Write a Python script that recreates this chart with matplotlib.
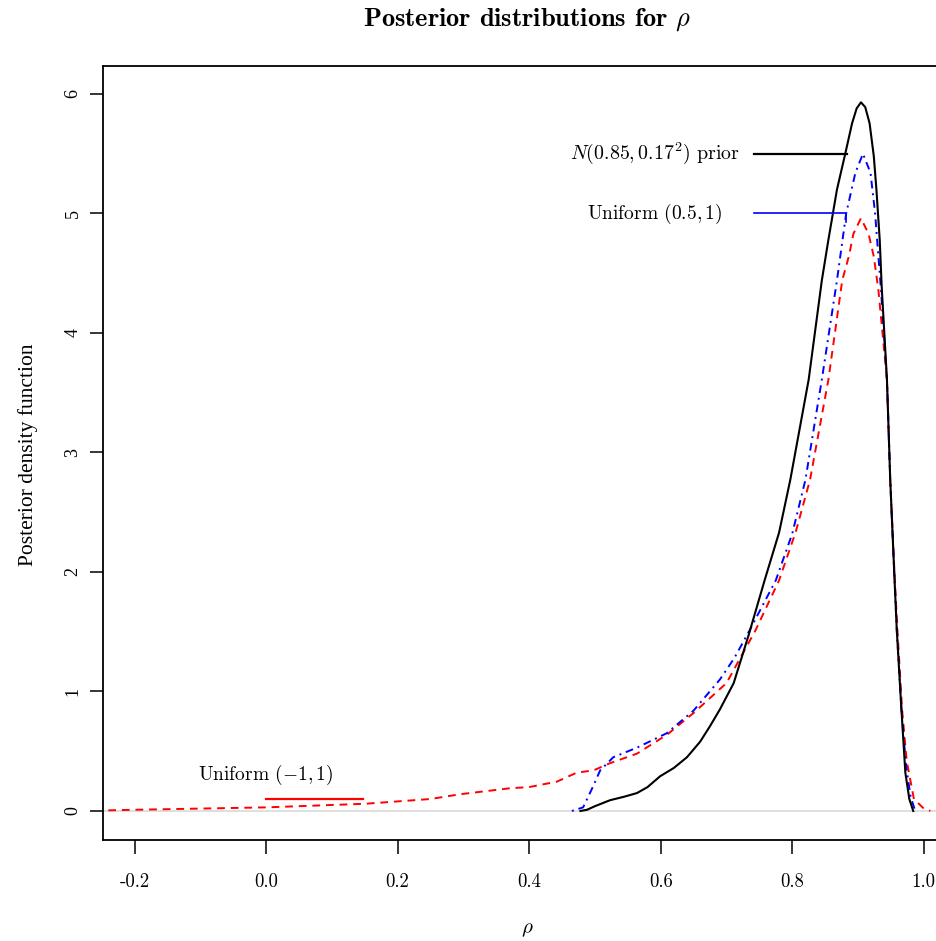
import matplotlib
matplotlib.use("Agg")
import matplotlib.pyplot as plt
import numpy as np

plt.rcParams['mathtext.fontset'] = 'cm'
plt.rcParams['font.family'] = ['cmr10', 'DejaVu Serif']
plt.rcParams['axes.unicode_minus'] = False

# posterior densities
rho_normal = [0.478, 0.488, 0.50, 0.523, 0.545, 0.564, 0.58, 0.599, 0.62, 0.64,
              0.66, 0.675, 0.69, 0.711, 0.7336, 0.758, 0.78, 0.797, 0.825,
              0.845, 0.855, 0.868, 0.8806, 0.891, 0.898, 0.9045, 0.911, 0.9176,
              0.924, 0.928, 0.933, 0.936, 0.944, 0.949, 0.9556, 0.959, 0.966,
              0.972, 0.978, 0.984]
dens_normal = [0.0, 0.01, 0.04, 0.09, 0.12, 0.15, 0.20, 0.29, 0.36, 0.45,
               0.58, 0.71, 0.85, 1.07, 1.47, 1.93, 2.33, 2.77, 3.61,
               4.44, 4.78, 5.20, 5.50, 5.755, 5.88, 5.93, 5.89, 5.755,
               5.48, 5.20, 4.78, 4.39, 3.61, 2.77, 1.93, 1.51, 0.85,
               0.32, 0.10, 0.0]

rho_unif05 = [0.465, 0.482, 0.495, 0.508, 0.528, 0.564, 0.609, 0.65, 0.69, 0.712,
              0.735, 0.775, 0.80, 0.82, 0.845, 0.868, 0.873, 0.882, 0.896,
              0.9075, 0.919, 0.926, 0.931, 0.935, 0.944, 0.949, 0.9556, 0.959,
              0.966, 0.973, 0.98, 0.987]
dens_unif05 = [0.0, 0.03, 0.18, 0.34, 0.45, 0.53, 0.65, 0.84, 1.10, 1.28,
               1.51, 1.93, 2.32, 2.77, 3.61, 4.44, 4.64, 5.0, 5.34,
               5.50, 5.34, 5.0, 4.64, 4.36, 3.61, 2.77, 1.93, 1.51,
               0.85, 0.38, 0.12, 0.0]

rho_unif11 = [-0.24, -0.2, -0.1, 0.0, 0.1, 0.15, 0.2, 0.25, 0.295, 0.371, 0.40,
              0.442, 0.472, 0.498, 0.523, 0.564, 0.61, 0.65, 0.70, 0.744, 0.78,
              0.805, 0.827, 0.855, 0.876, 0.886, 0.893, 0.9045, 0.916, 0.924,
              0.931, 0.944, 0.949, 0.956, 0.96, 0.967, 0.974, 0.985, 1.0, 1.01]
dens_unif11 = [0.005, 0.01, 0.02, 0.03, 0.05, 0.06, 0.08, 0.10, 0.14, 0.19, 0.20,
               0.245, 0.32, 0.34, 0.40, 0.48, 0.64, 0.82, 1.07, 1.51, 1.93,
               2.33, 2.77, 3.61, 4.44, 4.64, 4.83, 4.96, 4.83, 4.64,
               4.36, 3.61, 2.77, 1.93, 1.51, 0.85, 0.42, 0.10, 0.02, 0.0]

x_ticks = [-0.2, 0.0, 0.2, 0.4, 0.6, 0.8, 1.0]
x_labels = ['-0.2', '0.0', '0.2', '0.4', '0.6', '0.8', '1.0']
y_ticks = [0, 1, 2, 3, 4, 5, 6]

fig = plt.figure(figsize=(9.36, 9.41), dpi=100)
ax = fig.add_axes([103 / 936, 101 / 941, 853 / 936, 774 / 941])

ax.axhline(0, color='#d9d9d9', linewidth=1.2, zorder=1)
ax.plot(rho_unif11, dens_unif11, color='red', linestyle=(0, (4, 3)), linewidth=1.4)
ax.plot(rho_unif05, dens_unif05, color='blue', linestyle=(0, (1, 2.5, 4, 2.5)), linewidth=1.4)
ax.plot(rho_normal, dens_normal, color='black', linewidth=1.5)

# labels on the curves
ax.plot([0.742, 0.883], [5.5, 5.5], color='black', linewidth=1.6)
ax.text(0.721, 5.5, r'$N(0.85, 0.17^2)$ prior', ha='right', va='center', fontsize=14.3)
ax.plot([0.742, 0.882, 0.882], [5.0, 5.0, 4.93], color='blue', linewidth=1.2)
ax.text(0.694, 5.0, r'Uniform $(0.5, 1)$', ha='right', va='center', fontsize=14)
ax.plot([0.0, 0.148], [0.10, 0.10], color='red', linewidth=1.6)
ax.text(0.0, 0.30, r'Uniform $(-1, 1)$', ha='center', va='center', fontsize=14)

ax.set_xlim(-0.248, 1.049)
ax.set_ylim(-0.243, 6.234)
ax.set_xticks(x_ticks)
ax.set_xticklabels(x_labels)
ax.set_yticks(y_ticks)
ax.set_yticklabels([str(v) for v in y_ticks], rotation=90, va='center',
                   family='Liberation Serif')
ax.tick_params(axis='x', length=10, width=1.1, pad=14, labelsize=13.5)
ax.tick_params(axis='y', length=9.5, width=1.1, pad=6, labelsize=13)
for s in ax.spines.values():
    s.set_linewidth(1.3)

fig.text(527 / 936, 1 - 20 / 941, r'Posterior distributions for $\rho$',
         ha='center', va='center', fontsize=19, family='cmb10')
fig.text(527 / 936, 1 - 930 / 941, r'$\rho$', ha='center', va='center', fontsize=15)
fig.text(28 / 936, 1 - 455 / 941, 'Posterior density function', rotation=90,
         ha='center', va='center', fontsize=15.5, family='Liberation Serif')

fig.savefig('out.png', dpi=100)
